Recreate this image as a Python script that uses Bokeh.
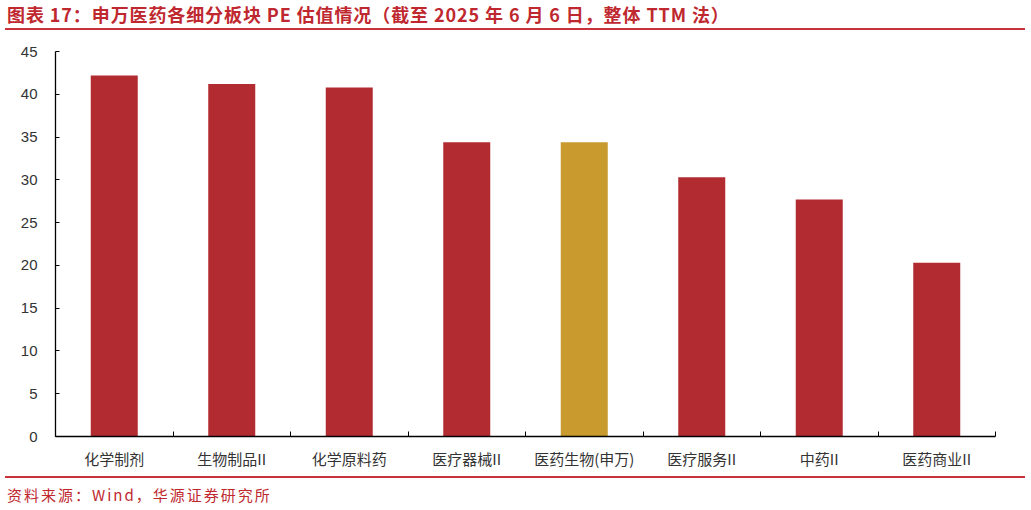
from bokeh.plotting import figure
from bokeh.models import ColumnDataSource, Range1d, FixedTicker, Div
from bokeh.layouts import column
from bokeh.embed import file_html
from bokeh.resources import INLINE

categories = ["化学制剂", "生物制品II", "化学原料药", "医疗器械II", "医药生物(申万)", "医疗服务II", "中药II", "医药商业II"]
pe_values = [42.2, 41.2, 40.8, 34.4, 34.4, 30.3, 27.7, 20.3]
highlight = "医药生物(申万)"
y_ticks = [0, 5, 10, 15, 20, 25, 30, 35, 40, 45]

title_text = "图表 17：申万医药各细分板块 PE 估值情况（截至 2025 年 6 月 6 日，整体 TTM 法）"
source_text = "资料来源：Wind，华源证券研究所"

RED = "#B22B30"
GOLD = "#C99A2E"
TXT_RED = "#C0282F"
LINE_RED = "#C8323A"
CJK = "'Noto Sans CJK SC'"

xs = [i + 0.5 for i in range(len(categories))]
colors = [GOLD if c == highlight else RED for c in categories]
src = ColumnDataSource(dict(x=xs, v=pe_values, c=colors, name=categories))

title = Div(text=title_text, width=1020, height=30, margin=(0, 0, 0, 5),
            styles={"font-family": CJK, "font-weight": "bold", "font-size": "18px",
                    "color": TXT_RED, "line-height": "20px", "letter-spacing": "0.9px",
                    "padding-top": "4px", "padding-left": "2px",
                    "border-bottom": "2px solid " + LINE_RED, "box-sizing": "border-box",
                    "white-space": "nowrap"})

p = figure(width=1020, height=446, output_backend="svg", toolbar_location=None,
           x_range=Range1d(0, len(categories)), y_range=Range1d(0, 45),
           min_border_left=55, min_border_right=25, min_border_top=21, min_border_bottom=40,
           outline_line_color=None, margin=(0, 0, 0, 0))
p.vbar(x="x", top="v", width=0.4, fill_color="c", line_color=None, source=src)

p.xgrid.visible = False
p.ygrid.visible = False

xa = p.xaxis[0]
xa.ticker = FixedTicker(ticks=xs, minor_ticks=list(range(len(categories) + 1)))
xa.major_label_overrides = {x: c for x, c in zip(xs, categories)}
xa.major_tick_line_color = None
xa.minor_tick_in = 5
xa.minor_tick_out = 0
xa.minor_tick_line_color = "black"
xa.axis_line_color = "black"
xa.axis_line_width = 1.3
xa.major_label_text_font = "Noto Sans CJK SC"
xa.major_label_text_font_size = "15px"
xa.major_label_text_color = "#333333"
xa.major_label_standoff = 5

ya = p.yaxis[0]
ya.ticker = FixedTicker(ticks=y_ticks, minor_ticks=[])
ya.major_tick_in = 4
ya.major_tick_out = 0
ya.major_tick_line_color = "black"
ya.axis_line_color = "black"
ya.axis_line_width = 1.3
ya.major_label_text_font = "Liberation Sans"
ya.major_label_text_font_size = "15px"
ya.major_label_text_color = "#333333"
ya.major_label_standoff = 18

footer = Div(text=source_text, width=1020, height=32, margin=(0, 0, 0, 5),
             styles={"font-family": CJK, "font-size": "15px", "color": TXT_RED,
                     "letter-spacing": "2px", "line-height": "18px", "padding-top": "8px",
                     "padding-left": "2px",
                     "border-top": "2px solid " + LINE_RED, "box-sizing": "border-box",
                     "white-space": "nowrap"})

layout = column(title, p, footer, spacing=0)
open("out.html", "w").write(file_html(layout, INLINE))
